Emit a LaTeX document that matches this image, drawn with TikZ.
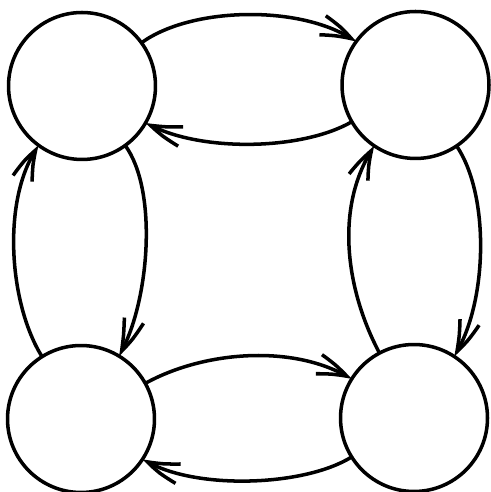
\documentclass[tikz,border=0pt]{standalone}
\usetikzlibrary{arrows.meta, bending}
\begin{document}
\begin{tikzpicture}[x=0.02cm, y=0.02cm,
    state/.style={circle, draw, line width=2pt, minimum size=2.94cm, inner sep=0pt, outer sep=0pt},
    link/.style={line width=2pt, -{Straight Barb[length=0.6cm, width=0.4cm, bend]}}]
    \useasboundingbox (0,0) rectangle (490,492);
    % The four states
    \node[state] (nw) at (82,406) {};
    \node[state] (ne) at (415.5,407) {};
    \node[state] (sw) at (81,73) {};
    \node[state] (se) at (414,74) {};
    
    % Top pair
    \draw[link] (nw) to[out=36, in=144, looseness=0.75] (ne);
    \draw[link] (ne) to[out=210, in=-30, looseness=0.73] (nw);
    
    % Left pair
    \draw[link] (sw) to[out=122, in=234, looseness=0.77] (nw);
    \draw[link] (nw) to[out=-54, in=59, looseness=0.7] (sw);
    
    % Right pair
    \draw[link] (se) to[out=118, in=236, looseness=0.89] (ne);
    \draw[link] (ne) to[out=-56, in=57, looseness=0.74] (se);
    
    % Bottom pair
    \draw[link] (sw) to[out=29, in=148, looseness=0.83] (se);
    \draw[link] (se) to[out=212, in=-33, looseness=0.7] (sw);
\end{tikzpicture}
\end{document}
